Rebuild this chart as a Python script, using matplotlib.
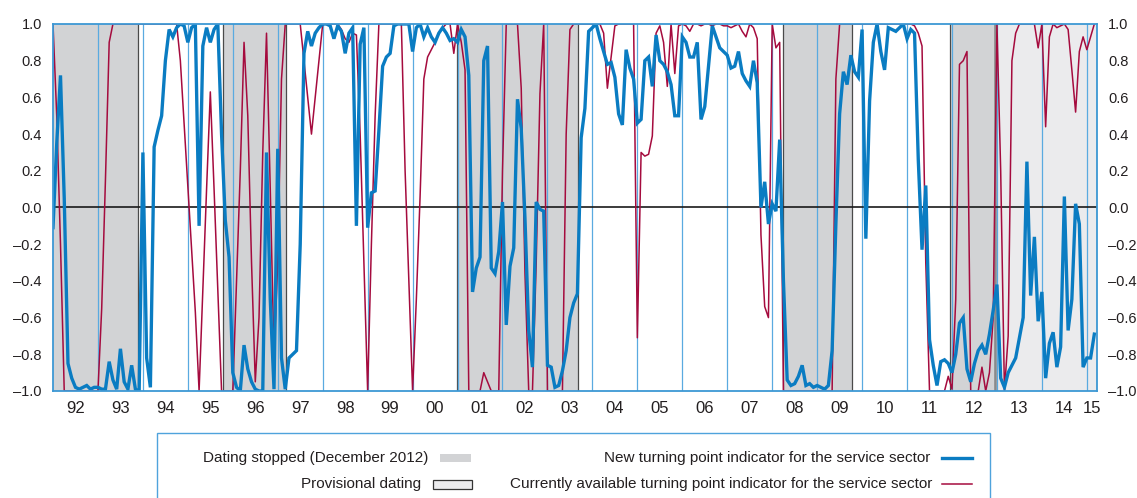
import numpy as np
import matplotlib.pyplot as plt
from matplotlib.patches import Rectangle
from matplotlib.lines import Line2D

plt.rcParams['font.family'] = ['Liberation Sans']

# monthly values, January 1992 to March 2015
new_indicator = [
    -0.11, 0.35, 0.72, 0.05, -0.85, -0.93, -0.98, -0.99, -0.98, -0.97, -0.99, -0.98,   # 92
    -0.98, -0.99, -0.99, -0.84, -0.94, -0.99, -0.77, -0.95, -0.99, -0.86, -0.99, -1.0,  # 93
    0.30, -0.82, -0.98, 0.33, 0.42, 0.50, 0.80, 0.97, 0.93, 0.98, 1.0, 0.99,            # 94
    0.90, 0.98, 1.0, -0.10, 0.88, 0.98, 0.90, 0.97, 1.0, 0.40, -0.07, -0.27,            # 95
    -0.90, -0.98, -1.0, -0.75, -0.88, -0.95, -0.99, -1.0, -1.0, 0.30, -0.50, -0.99,     # 96
    0.32, -0.82, -0.99, -0.82, -0.80, -0.78, -0.20, 0.84, 0.96, 0.88, 0.95, 0.98,       # 97
    1.0, 1.0, 0.99, 0.92, 0.99, 0.96, 0.84, 0.95, 0.98, -0.10, 0.89, 0.98,              # 98
    -0.11, 0.08, 0.09, 0.42, 0.77, 0.82, 0.84, 0.99, 1.0, 1.0, 1.0, 1.0,                # 99
    0.85, 0.98, 1.0, 0.93, 0.98, 0.93, 0.90, 0.95, 0.98, 0.95, 0.91, 0.92,              # 00
    0.90, 0.97, 0.93, 0.72, -0.46, -0.33, -0.27, 0.80, 0.88, -0.33, -0.36, -0.24,       # 01
    0.03, -0.64, -0.32, -0.22, 0.59, 0.43, -0.06, -0.67, -0.87, 0.03, -0.01, -0.02,     # 02
    -0.86, -0.87, -0.98, -0.97, -0.89, -0.78, -0.60, -0.52, -0.47, 0.38, 0.54, 0.96,    # 03
    0.98, 1.0, 0.92, 0.85, 0.78, 0.79, 0.71, 0.51, 0.45, 0.86, 0.76, 0.70,              # 04
    0.46, 0.48, 0.80, 0.82, 0.66, 0.94, 0.80, 0.78, 0.74, 0.67, 0.50, 0.50,             # 05
    0.93, 0.90, 0.82, 0.82, 0.90, 0.48, 0.55, 0.77, 0.99, 0.93, 0.87, 0.85,             # 06
    0.83, 0.76, 0.77, 0.85, 0.73, 0.69, 0.66, 0.80, 0.68, 0.00, 0.14, -0.09,            # 07
    0.02, -0.02, 0.37, -0.40, -0.94, -0.97, -0.96, -0.92, -0.86, -0.97, -0.96, -0.98,   # 08
    -0.97, -0.98, -0.99, -0.97, -0.78, -0.09, 0.51, 0.74, 0.67, 0.83, 0.74, 0.71,       # 09
    0.97, -0.17, 0.58, 0.90, 1.0, 0.85, 0.75, 0.98, 0.97, 0.96, 0.98, 1.0,              # 10
    0.92, 0.97, 0.95, 0.26, -0.23, 0.12, -0.72, -0.86, -0.97, -0.84, -0.83, -0.85,      # 11
    -0.90, -0.80, -0.63, -0.60, -0.88, -0.95, -0.85, -0.78, -0.75, -0.80, -0.69, -0.56, # 12
    -0.42, -0.93, -0.98, -0.90, -0.86, -0.82, -0.71, -0.60, 0.25, -0.48, -0.16, -0.62,  # 13
    -0.46, -0.93, -0.74, -0.68, -0.87, -0.76, 0.06, -0.67, -0.50, 0.02, -0.09, -0.87,   # 14
    -0.82, -0.82, -0.69,                                                                # 15
]

current_indicator = [
    1.0, 0.5, -0.2, -1.0, -1.0, -1.0, -1.0, -1.0, -1.0, -1.0, -1.0, -1.0,               # 92
    -1.0, -0.55, 0.15, 0.9, 1.0, 1.0, 1.0, 1.0, 1.0, 1.0, 1.0, 1.0,                     # 93
    1.0, 1.0, 1.0, 1.0, 1.0, 1.0, 1.0, 1.0, 1.0, 1.0, 0.8, 0.46,                        # 94
    0.12, -0.23, -0.57, -1.0, -0.45, 0.1, 0.63, 0.1, -0.45, -1.0, -1.0, -1.0,           # 95
    -1.0, -0.4, 0.2, 0.9, 0.5, -0.3, -0.95, -0.6, 0.3, 0.95, 0.1, -0.8,                 # 96
    -0.3, 0.7, 1.0, 1.0, 1.0, 1.0, 1.0, 0.8, 0.6, 0.4, 0.6, 0.8,                        # 97
    1.0, 1.0, 1.0, 1.0, 1.0, 0.97, 0.92, 0.9, 0.95, 0.94, 0.4, -0.3,                    # 98
    -1.0, -0.2, 0.5, 1.0, 1.0, 1.0, 1.0, 1.0, 1.0, 1.0, 0.2, -0.4,                      # 99
    -1.0, -0.5, 0.06, 0.7, 0.82, 0.86, 0.9, 0.95, 0.98, 1.0, 1.0, 0.84,                 # 00
    1.0, 0.9, 0.75, -1.0, -1.0, -1.0, -1.0, -0.9, -0.95, -1.0, -1.0, -1.0,              # 01
    0.2, 1.0, 1.0, 1.0, 1.0, 0.65, -0.36, -1.0, -1.0, -0.3, 0.62, 1.0,                  # 02
    -1.0, -1.0, -1.0, -1.0, -1.0, 0.4, 0.97, 1.0, 1.0, 1.0, 1.0, 1.0,                   # 03
    1.0, 1.0, 1.0, 0.95, 0.65, 0.82, 0.99, 1.0, 1.0, 1.0, 1.0, 1.0,                     # 04
    -0.71, 0.3, 0.28, 0.29, 0.39, 0.95, 0.99, 0.9, 0.66, 1.0, 0.73, 0.99,               # 05
    1.0, 0.99, 0.96, 1.0, 1.0, 0.99, 1.0, 1.0, 0.99, 1.0, 1.0, 0.99,                    # 06
    0.99, 0.98, 0.99, 1.0, 0.96, 0.93, 1.0, 0.98, 0.92, -0.15, -0.54, -0.6,             # 07
    1.0, 0.87, 0.9, -1.0, -1.0, -1.0, -1.0, -1.0, -1.0, -1.0, -1.0, -1.0,               # 08
    -1.0, -1.0, -1.0, -1.0, -1.0, 0.7, 1.0, 1.0, 1.0, 1.0, 1.0, 1.0,                    # 09
    1.0, 1.0, 1.0, 1.0, 1.0, 1.0, 1.0, 1.0, 1.0, 1.0, 1.0, 1.0,                         # 10
    1.0, 1.0, 0.99, 0.95, 0.88, -0.3, -1.0, -1.0, -1.0, -1.0, -1.0, -0.92,              # 11
    -0.99, -0.5, 0.78, 0.8, 0.85, -1.0, -1.0, -1.0, -0.87, -1.0, -0.9, -0.6,            # 12
    1.0, 0.2, -1.0, -0.7, 0.8, 0.95, 1.0, 1.0, 1.0, 1.0, 1.0, 0.87,                     # 13
    1.0, 0.44, 0.93, 1.0, 0.98, 0.99, 1.0, 0.97, 0.75, 0.52, 0.85, 0.93,                # 14
    0.86, 0.93, 1.0,                                                                    # 15
]

# shaded periods in decimal years
dating_stopped = [(1992.0, 1993.88), (1995.78, 1997.19), (2000.98, 2003.68),
                  (2008.23, 2009.77), (2011.955, 2012.955)]
provisional = [(2012.955, 2015.23)]

year_labels = ['92', '93', '94', '95', '96', '97', '98', '99', '00', '01', '02', '03',
               '04', '05', '06', '07', '08', '09', '10', '11', '12', '13', '14', '15']

BLUE = '#0a7cc2'
RED = '#a50b3e'
GREY = '#d2d3d5'
LIGHT = '#ebebed'
FRAME = '#3d98d4'
GRID = '#5aaae0'
TXT = '#231f20'

t_new = 1992 + np.arange(len(new_indicator)) / 12
t_cur = 1992 + np.arange(len(current_indicator)) / 12

W, H = 1137, 498
fig = plt.figure(figsize=(W / 100, H / 100), dpi=100)
ax = fig.add_axes([53 / W, 1 - 391 / H, (1097 - 53) / W, (391 - 24) / H])
ax.set_xlim(1992.0, 2015.226)
ax.set_ylim(-1.0, 1.0)

for a, b in dating_stopped:
    ax.axvspan(a, b, color=GREY, lw=0, zorder=0)
for a, b in provisional:
    ax.axvspan(a, b, color=LIGHT, lw=0, zorder=0)

# year gridlines
years = np.arange(1993, 2016)
ax.set_xticks(years, minor=True)
ax.grid(which='minor', axis='x', color=GRID, lw=0.9, zorder=1)

for a, b in dating_stopped:
    for e in (a, b):
        if 1992.0 < e < 2015.2:
            ax.axvline(e, color='#4a4a4a', lw=0.9, zorder=1.5)
for a, b in provisional:
    ax.axvline(a, color='#8a8a8a', lw=1.8, zorder=1.5)
    ax.axvline(b - 0.01, color='#6a6a6a', lw=0.9, zorder=1.5)

ax.axhline(0, color='#1a1a1a', lw=1.2, zorder=2)

ax.plot(t_cur, current_indicator, color=RED, lw=1.1, zorder=3)
ax.plot(t_new, new_indicator, color=BLUE, lw=2.4, zorder=4, solid_joinstyle='miter')

# ticks
tick_pos = [y + 0.5 for y in range(1992, 2015)] + [2015.12]
ax.set_xticks(tick_pos)
ax.set_xticklabels(year_labels)
yt = np.round(np.arange(-1.0, 1.01, 0.2), 1)
ax.set_yticks(yt)
ax.set_yticklabels([('%.1f' % abs(v)) if v >= 0 else '\u2013%.1f' % abs(v) for v in yt])
ax.tick_params(axis='both', which='both', length=0, colors=TXT)
ax.tick_params(axis='y', labelsize=10.5, pad=8, labelright=True)
ax.tick_params(axis='x', labelsize=12, pad=7)

for s in ax.spines.values():
    s.set_color(FRAME)
    s.set_linewidth(1.3)
    s.set_zorder(5)

# legend box (bottom is cut off in the original)
fig.add_artist(Rectangle((157 / W, -0.1), (990 - 157) / W, 0.1 + 1 - 433 / H,
                         transform=fig.transFigure, fill=False, edgecolor='#4fa3dc', lw=1))

lfont = dict(family=['Liberation Sans Narrow', 'Liberation Sans'], fontsize=11, color=TXT,
             va='center', ha='right')
r1, r2 = 1 - 458 / H, 1 - 484 / H
fig.text(428 / W, r1, 'Dating stopped (December 2012)', **lfont)
fig.text(421 / W, r2, 'Provisional dating', **lfont)
fig.text(930 / W, r1, 'New turning point indicator for the service sector', **lfont)
fig.text(932 / W, r2, 'Currently available turning point indicator for the service sector', **lfont)

fig.add_artist(Rectangle((440 / W, 1 - 462 / H), 31 / W, 8 / H, transform=fig.transFigure,
                         facecolor=GREY, edgecolor='none'))
fig.add_artist(Rectangle((433 / W, 1 - 489 / H), 39 / W, 9 / H, transform=fig.transFigure,
                         facecolor=LIGHT, edgecolor='#333333', lw=0.9))
fig.add_artist(Line2D([942 / W, 972 / W], [r1, r1], transform=fig.transFigure, color=BLUE, lw=2.4))
fig.add_artist(Line2D([942 / W, 972 / W], [r2, r2], transform=fig.transFigure, color=RED, lw=1.1))

fig.savefig('out.png', dpi=100)
